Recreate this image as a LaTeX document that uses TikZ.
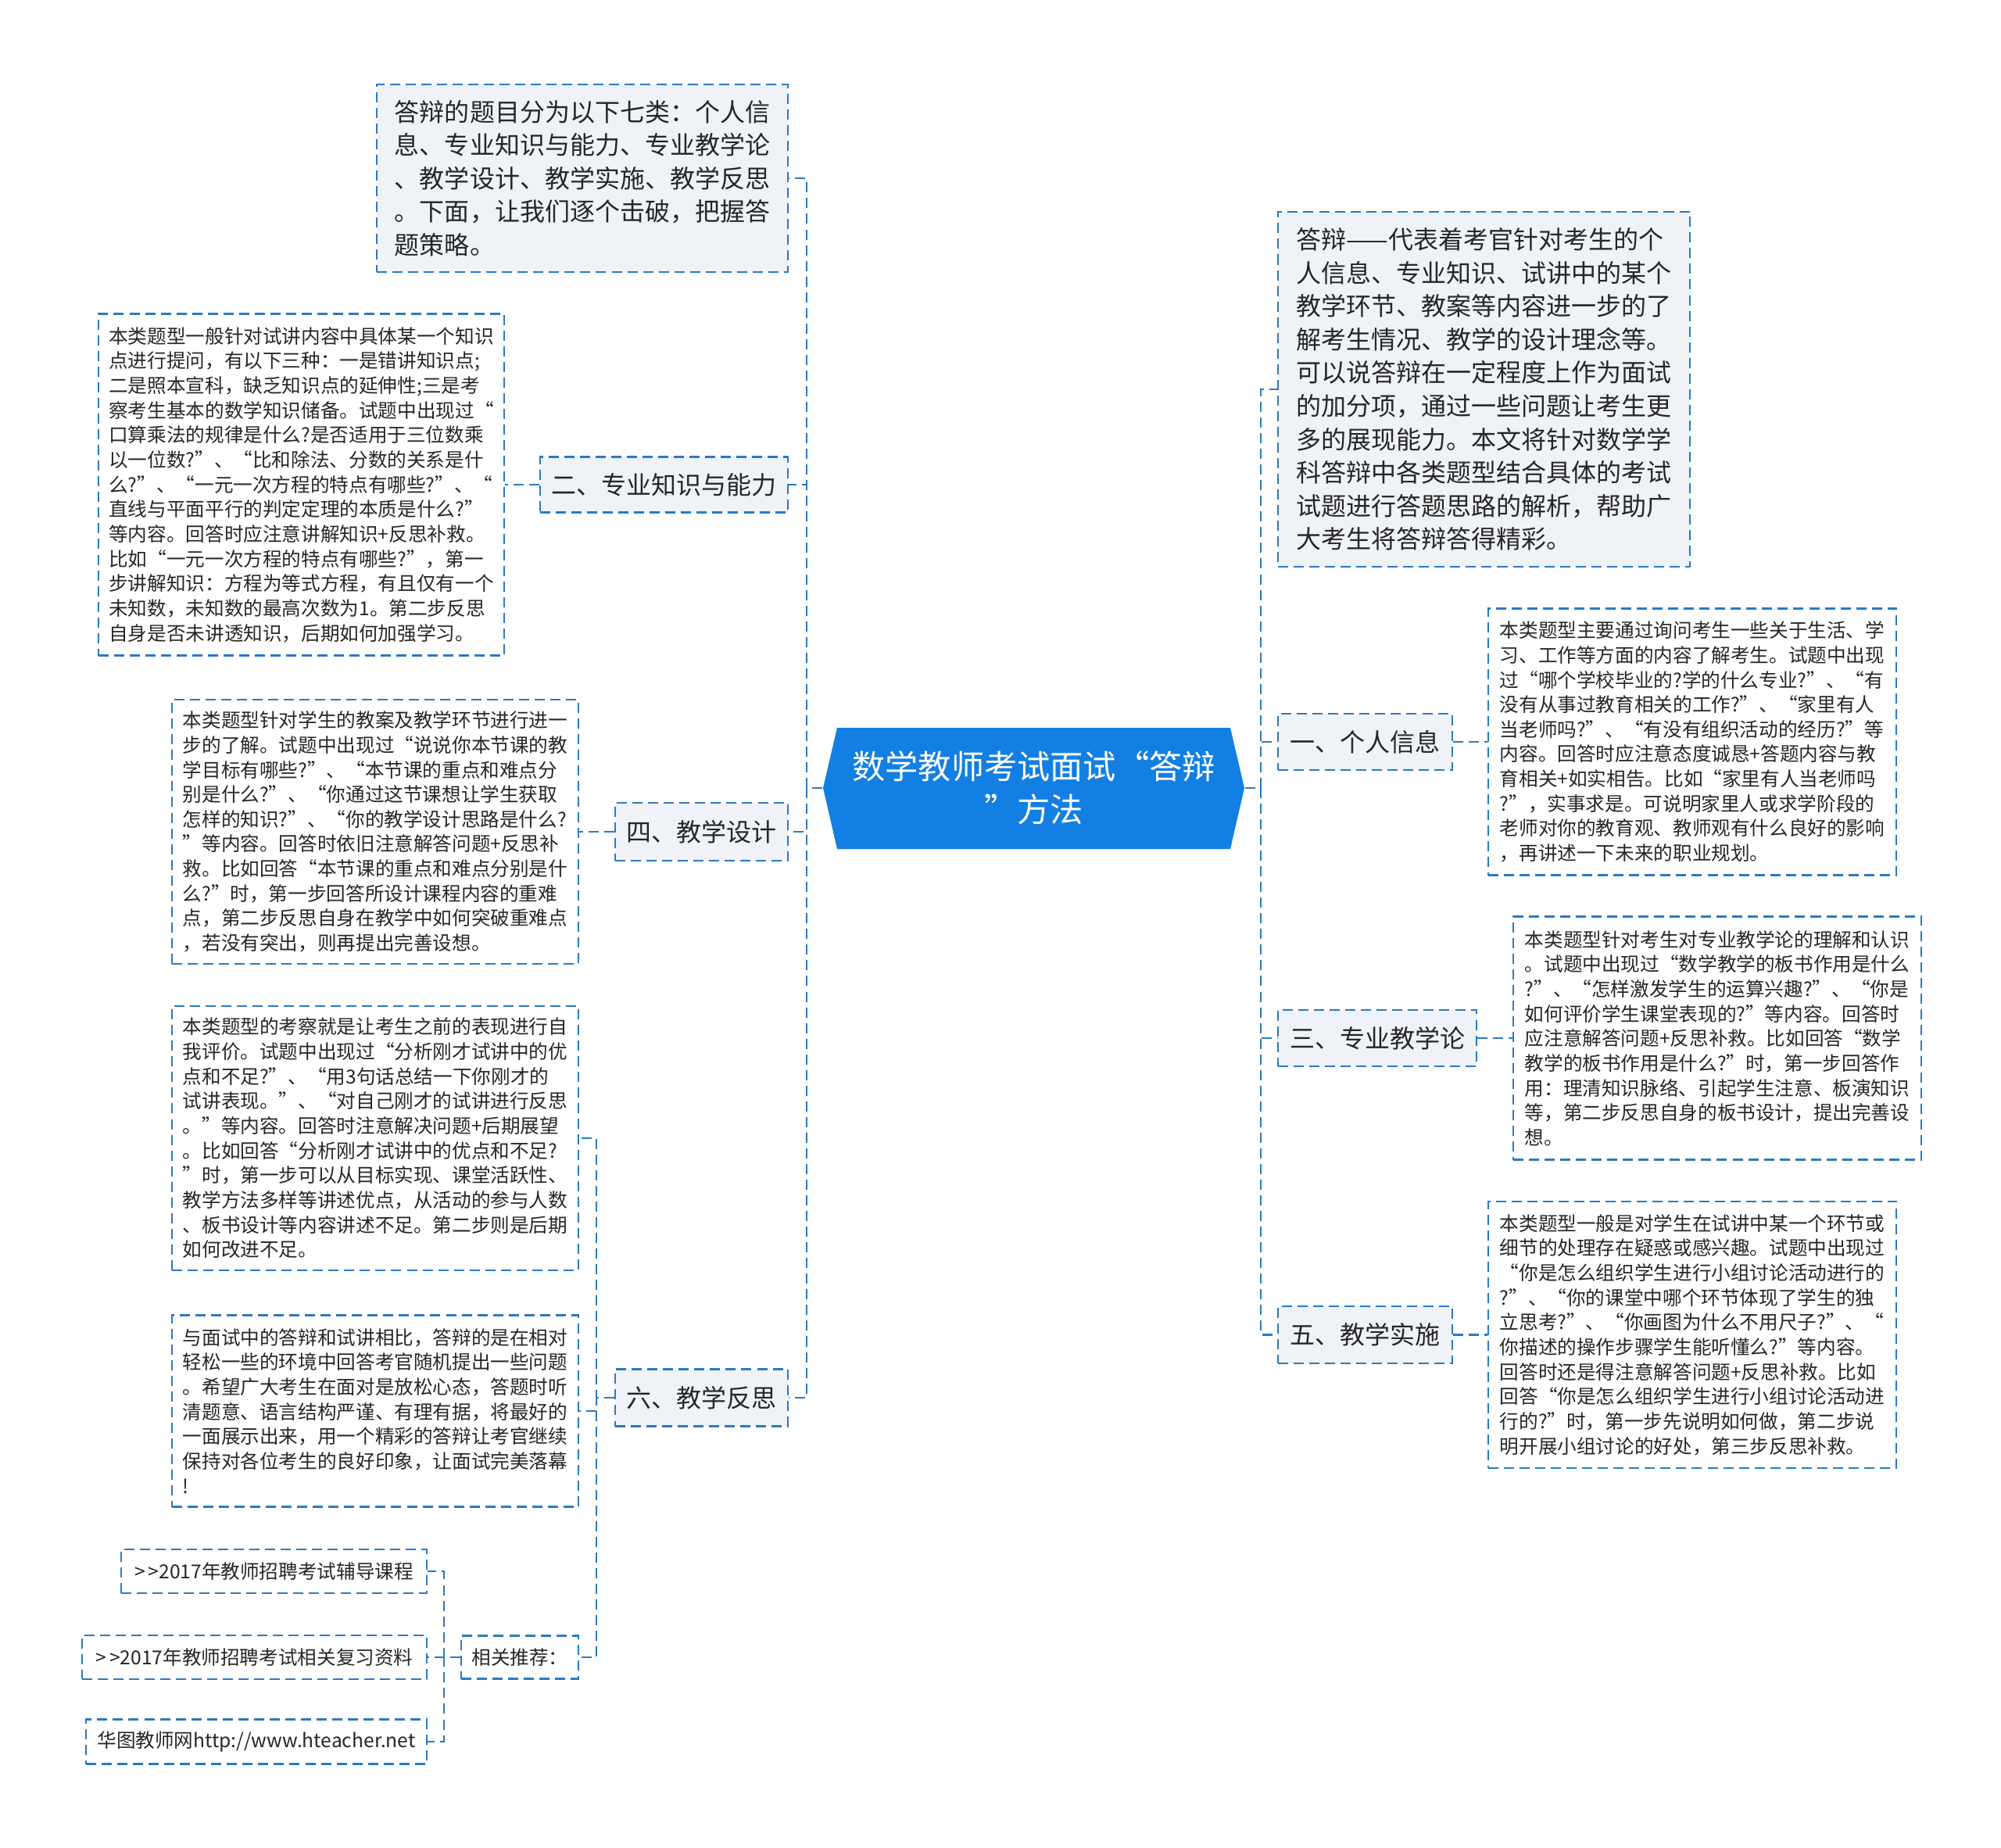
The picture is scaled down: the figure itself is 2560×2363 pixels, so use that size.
\documentclass[tikz,border=0pt]{standalone}
\usepackage{fontspec}
\newfontfamily\zhfont{Noto Sans CJK SC}
\definecolor{vblue}{HTML}{137FE3}
\definecolor{vline}{HTML}{2A7AC4}
\definecolor{vfill}{HTML}{EFF2F6}
\definecolor{vtext}{HTML}{262626}
\tikzset{
	branch/.style={draw=vline, line width=0.7pt, dash pattern=on 3.7pt off 2pt},
	notebox/.style={branch, fill=vfill, text=vtext, align=left, inner sep=0pt, font=\zhfont\fontsize{9.1pt}{12.1pt}\selectfont},
	topicbox/.style={notebox},
	detailbox/.style={branch, fill=white, text=vtext, align=left, inner sep=0pt, font=\zhfont\fontsize{7pt}{9pt}\selectfont},
	refbox/.style={detailbox},
}
\begin{document}
\begin{tikzpicture}[x=0.01cm, y=-0.01cm]
		\fill[white] (0,0) rectangle (2560,2363);
		\useasboundingbox (0,0) rectangle (2560,2363);
		% root
		\fill[vblue] (1071,931) -- (1574,931) -- (1592,1008) -- (1574,1086) -- (1071,1086) -- (1053,1008) -- cycle;
		\node[text=white, align=center, inner sep=0pt, minimum width=5.39cm, minimum height=1.55cm, font=\zhfont\fontsize{12pt}{15.8pt}\selectfont] (root) at (1322.5,1008) {数学教师考试面试“答辩\\”方法};
		% left side
		\node[notebox, minimum width=5.26cm, minimum height=2.40cm] (intro) at (745,228) {答辩的题目分为以下七类：个人信\\息、专业知识与能力、专业教学论\\、教学设计、教学实施、教学反思\\。下面，让我们逐个击破，把握答\\题策略。};
		\node[topicbox, minimum width=3.17cm, minimum height=0.71cm] (n2) at (849.5,620) {二、专业知识与能力};
		\node[detailbox, minimum width=5.19cm, minimum height=4.37cm] (d2) at (385.5,620) {本类题型一般针对试讲内容中具体某一个知识\\点进行提问，有以下三种：一是错讲知识点;\\二是照本宣科，缺乏知识点的延伸性;三是考\\察考生基本的数学知识储备。试题中出现过“\\口算乘法的规律是什么?是否适用于三位数乘\\以一位数?”、“比和除法、分数的关系是什\\么?”、“一元一次方程的特点有哪些?”、“\\直线与平面平行的判定定理的本质是什么?”\\等内容。回答时应注意讲解知识+反思补救。\\比如“一元一次方程的特点有哪些?”，第一\\步讲解知识：方程为等式方程，有且仅有一个\\未知数，未知数的最高次数为1。第二步反思\\自身是否未讲透知识，后期如何加强学习。};
		\node[topicbox, minimum width=2.21cm, minimum height=0.74cm] (n4) at (897.5,1064) {四、教学设计};
		\node[detailbox, minimum width=5.20cm, minimum height=3.38cm] (d4) at (480,1064) {本类题型针对学生的教案及教学环节进行进一\\步的了解。试题中出现过“说说你本节课的教\\学目标有哪些?”、“本节课的重点和难点分\\别是什么?”、“你通过这节课想让学生获取\\怎样的知识?”、“你的教学设计思路是什么?\\”等内容。回答时依旧注意解答问题+反思补\\救。比如回答“本节课的重点和难点分别是什\\么?”时，第一步回答所设计课程内容的重难\\点，第二步反思自身在教学中如何突破重难点\\，若没有突出，则再提出完善设想。};
		\node[topicbox, minimum width=2.21cm, minimum height=0.73cm] (n6) at (897.5,1788) {六、教学反思};
		\node[detailbox, minimum width=5.20cm, minimum height=3.38cm] (d6a) at (480,1456) {本类题型的考察就是让考生之前的表现进行自\\我评价。试题中出现过“分析刚才试讲中的优\\点和不足?”、“用3句话总结一下你刚才的\\试讲表现。”、“对自己刚才的试讲进行反思\\。”等内容。回答时注意解决问题+后期展望\\。比如回答“分析刚才试讲中的优点和不足?\\”时，第一步可以从目标实现、课堂活跃性、\\教学方法多样等讲述优点，从活动的参与人数\\、板书设计等内容讲述不足。第二步则是后期\\如何改进不足。};
		\node[detailbox, minimum width=5.20cm, minimum height=2.45cm] (d6b) at (480,1805) {与面试中的答辩和试讲相比，答辩的是在相对\\轻松一些的环境中回答考官随机提出一些问题\\。希望广大考生在面对是放松心态，答题时听\\清题意、语言结构严谨、有理有据，将最好的\\一面展示出来，用一个精彩的答辩让考官继续\\保持对各位考生的良好印象，让面试完美落幕\\!};
		\node[refbox, minimum width=1.50cm, minimum height=0.55cm] (rel) at (665,2120) {相关推荐：};
		\node[refbox, minimum width=3.91cm, minimum height=0.56cm] (l1) at (350.5,2010) {>\,>2017年教师招聘考试辅导课程};
		\node[refbox, minimum width=4.41cm, minimum height=0.56cm] (l2) at (325.5,2120) {>\,>2017年教师招聘考试相关复习资料};
		\node[refbox, minimum width=4.36cm, minimum height=0.57cm] (l3) at (328,2228) {华图教师网http://www.hteacher.net};
		% right side
		\node[notebox, minimum width=5.27cm, minimum height=4.54cm] (summary) at (1898.5,498) {答辩——代表着考官针对考生的个\\人信息、专业知识、试讲中的某个\\教学环节、教案等内容进一步的了\\解考生情况、教学的设计理念等。\\可以说答辩在一定程度上作为面试\\的加分项，通过一些问题让考生更\\多的展现能力。本文将针对数学学\\科答辩中各类题型结合具体的考试\\试题进行答题思路的解析，帮助广\\大考生将答辩答得精彩。};
		\node[topicbox, minimum width=2.23cm, minimum height=0.72cm] (n1) at (1746.5,949) {一、个人信息};
		\node[detailbox, minimum width=5.22cm, minimum height=3.41cm] (d1) at (2165,949) {本类题型主要通过询问考生一些关于生活、学\\习、工作等方面的内容了解考生。试题中出现\\过“哪个学校毕业的?学的什么专业?”、“有\\没有从事过教育相关的工作?”、“家里有人\\当老师吗?”、“有没有组织活动的经历?”等\\内容。回答时应注意态度诚恳+答题内容与教\\育相关+如实相告。比如“家里有人当老师吗\\?”，实事求是。可说明家里人或求学阶段的\\老师对你的教育观、教师观有什么良好的影响\\，再讲述一下未来的职业规划。};
		\node[topicbox, minimum width=2.54cm, minimum height=0.72cm] (n3) at (1762,1328) {三、专业教学论};
		\node[detailbox, minimum width=5.22cm, minimum height=3.11cm] (d3) at (2197,1328) {本类题型针对考生对专业教学论的理解和认识\\。试题中出现过“数学教学的板书作用是什么\\?”、“怎样激发学生的运算兴趣?”、“你是\\如何评价学生课堂表现的?”等内容。回答时\\应注意解答问题+反思补救。比如回答“数学\\教学的板书作用是什么?”时，第一步回答作\\用：理清知识脉络、引起学生注意、板演知识\\等，第二步反思自身的板书设计，提出完善设\\想。};
		\node[topicbox, minimum width=2.23cm, minimum height=0.73cm] (n5) at (1746.5,1707.5) {五、教学实施};
		\node[detailbox, minimum width=5.22cm, minimum height=3.41cm] (d5) at (2165,1707.5) {本类题型一般是对学生在试讲中某一个环节或\\细节的处理存在疑惑或感兴趣。试题中出现过\\“你是怎么组织学生进行小组讨论活动进行的\\?”、“你的课堂中哪个环节体现了学生的独\\立思考?”、“你画图为什么不用尺子?”、“\\你描述的操作步骤学生能听懂么?”等内容。\\回答时还是得注意解答问题+反思补救。比如\\回答“你是怎么组织学生进行小组讨论活动进\\行的?”时，第一步先说明如何做，第二步说\\明开展小组讨论的好处，第三步反思补救。};
		% connectors
		\coordinate (lj) at (1032,1008);
		\coordinate (rj) at (1613,1008);
		\coordinate (j6) at (763,1788);
		\coordinate (jr) at (568,2120);
		\foreach \nd in {intro,n2,n4,n6}
			\draw[branch] (root.west) -- (lj) |- (\nd.east);
		\foreach \nd in {summary,n1,n3,n5}
			\draw[branch] (root.east) -- (rj) |- (\nd.west);
		\draw[branch] (n2.west) -- (d2.east);
		\draw[branch] (n4.west) -- (d4.east);
		\foreach \nd in {d6a,d6b,rel}
			\draw[branch] (n6.west) -- (j6) |- (\nd.east);
		\foreach \nd in {l1,l2,l3}
			\draw[branch] (rel.west) -- (jr) |- (\nd.east);
		\draw[branch] (n1.east) -- (d1.west);
		\draw[branch] (n3.east) -- (d3.west);
		\draw[branch] (n5.east) -- (d5.west);
	\end{tikzpicture}
\end{document}
